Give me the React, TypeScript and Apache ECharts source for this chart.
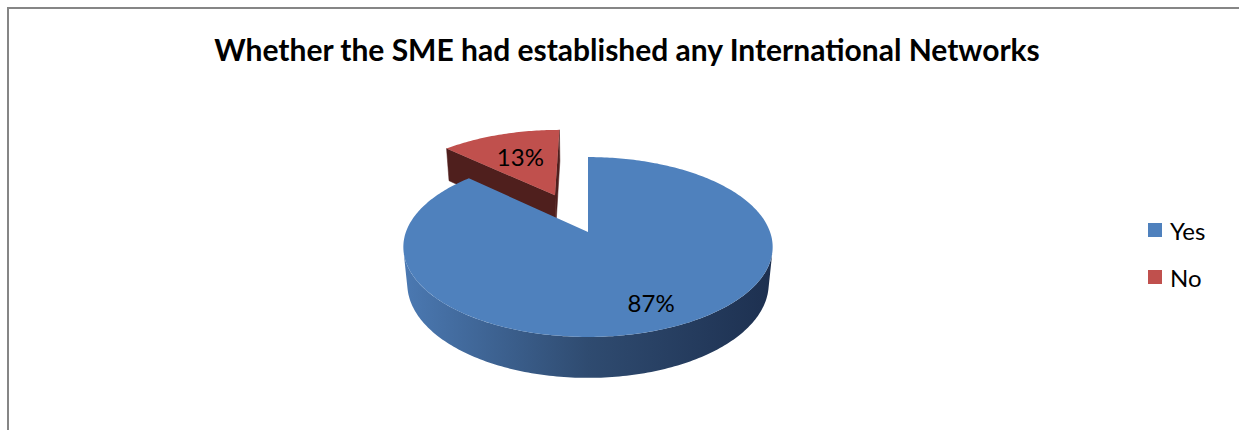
import React, { useEffect, useRef } from 'react';
import * as echarts from 'echarts';

// ---- data ----
const categories = ['Yes', 'No'];
const values = [87, 13];
const sliceColors = ['#4F81BD', '#C0504D'];
const titleText = 'Whether the SME had established any International Networks';

// ---- view / style (3D projection of the pie) ----
const CX = 588;
const CY = 232;
const FOCAL = 957.7;
const DIST = 5.26;
const TILT = (28.7 * Math.PI) / 180;
const THICK = 0.233;
const explode = [0, 0.491];
const labelPos = [0.77, 0.6];
const sideStops = [
  ['#4b79b2', '#2f4b70', '#1d3050'],
  ['#a04340', '#6e2b29', '#4a1d1c'],
];
const faceColors = ['#2c4a6e', '#4f1f1d'];

const COS = Math.cos(TILT);
const SIN = Math.sin(TILT);

function project(X: number, Y: number, Z: number): number[] {
  const yc = Y * COS + Z * SIN;
  const zc = -Y * SIN + Z * COS + DIST;
  return [CX + (FOCAL * X) / zc, CY - (FOCAL * yc) / zc];
}

const rad = (d: number) => (d * Math.PI) / 180;

function renderSlice(i: number) {
  return (_params: any, api: any) => {
    const total = values.reduce((a, b) => a + b, 0);
    let start = 0;
    for (let j = 0; j < i; j++) start += values[j];
    const v = api.value(0);
    const a0 = (start / total) * 360;
    const a1 = ((start + v) / total) * 360;
    const mid = rad((a0 + a1) / 2);
    const ox = explode[i] * Math.sin(mid);
    const oz = explode[i] * Math.cos(mid);
    const pt = (deg: number, Y: number, r = 1) =>
      project(ox + r * Math.sin(rad(deg)), Y, oz + r * Math.cos(rad(deg)));
    const arc = (from: number, to: number, Y: number) => {
      const pts: number[][] = [];
      const n = Math.max(2, Math.ceil(Math.abs(to - from)));
      for (let k = 0; k <= n; k++) pts.push(pt(from + ((to - from) * k) / n, Y));
      return pts;
    };
    const apexTop = project(ox, 0, oz);
    const apexBot = project(ox, -THICK, oz);
    const cam = [0, DIST * SIN, -DIST * COS];
    const children: any[] = [];

    // radial faces
    const faces = [
      { deg: a0, n: [-Math.cos(rad(a0)), Math.sin(rad(a0))] },
      { deg: a1, n: [Math.cos(rad(a1)), -Math.sin(rad(a1))] },
    ];
    faces.forEach((f) => {
      const dot = (cam[0] - ox) * f.n[0] + (cam[2] - oz) * f.n[1];
      if (dot > 1e-6) {
        children.push({
          type: 'polygon',
          z2: 1,
          shape: { points: [apexTop, pt(f.deg, 0), pt(f.deg, -THICK), apexBot] },
          style: { fill: faceColors[i], stroke: faceColors[i], lineWidth: 0.5 },
        });
      }
    });

    // outer curved side (visible part)
    const vis = (deg: number) =>
      -ox * Math.sin(rad(deg)) - (DIST * COS + oz) * Math.cos(rad(deg)) - 1 > 0;
    let vs = -1;
    let ve = -1;
    for (let d = a0; d <= a1; d += 0.25) {
      if (vis(d)) {
        if (vs < 0) vs = d;
        ve = d;
      }
    }
    if (vs >= 0 && ve > vs) {
      const top = arc(vs, ve, 0);
      const bot = arc(ve, vs, -THICK);
      const pts = top.concat(bot);
      let minX = Infinity;
      let maxX = -Infinity;
      pts.forEach((p) => {
        minX = Math.min(minX, p[0]);
        maxX = Math.max(maxX, p[0]);
      });
      const s = sideStops[i];
      children.push({
        type: 'polygon',
        z2: 2,
        shape: { points: pts },
        style: {
          fill: new echarts.graphic.LinearGradient(
            minX,
            0,
            maxX,
            0,
            [
              { offset: 0, color: s[0] },
              { offset: 0.5, color: s[1] },
              { offset: 1, color: s[2] },
            ],
            true
          ),
        },
      });
    }

    // top face
    children.push({
      type: 'polygon',
      z2: 3,
      shape: { points: [apexTop].concat(arc(a0, a1, 0)) },
      style: { fill: sliceColors[i] },
    });

    // label
    const r = explode[i] + labelPos[i];
    const lp = project(r * Math.sin(mid), 0, r * Math.cos(mid));
    children.push({
      type: 'text',
      z2: 4,
      style: {
        text: Math.round((v / total) * 100) + '%',
        x: lp[0],
        y: lp[1],
        align: 'center',
        verticalAlign: 'middle',
        fontSize: 24,
        fontFamily: 'Lato',
        fill: '#000000',
      },
    });

    return { type: 'group', children };
  };
}

export default function App() {
  const ref = useRef<HTMLDivElement>(null);
  useEffect(() => {
    if (!ref.current) return;
    const chart = echarts.init(ref.current, undefined, { renderer: 'svg' });
    chart.setOption({
      animation: false,
      backgroundColor: '#ffffff',
      color: sliceColors,
      title: {
        text: titleText,
        left: 627,
        top: 49,
        padding: 0,
        textAlign: 'center',
        textVerticalAlign: 'middle',
        textStyle: {
          fontFamily: 'Lato',
          fontWeight: 'bold',
          fontSize: 30,
          color: '#000000',
        },
      },
      legend: {
        data: categories,
        orient: 'vertical',
        left: 1148,
        top: 217,
        padding: 0,
        icon: 'rect',
        itemWidth: 14,
        itemHeight: 14,
        itemGap: 21,
        selectedMode: false,
        textStyle: {
          fontFamily: 'Lato',
          fontSize: 24,
          lineHeight: 26,
          color: '#000000',
          padding: [0, 0, 0, 3],
        },
      },
      graphic: [
        {
          type: 'rect',
          silent: true,
          shape: { x: 8, y: 8, width: 1400, height: 600 },
          style: { fill: 'none', stroke: '#868686', lineWidth: 2 },
        },
      ],
      series: categories.map((name, i) => ({
        type: 'custom',
        name,
        coordinateSystem: 'none',
        renderItem: renderSlice(i),
        data: [[values[i]]],
        itemStyle: { color: sliceColors[i] },
        z: i === 0 ? 3 : 2,
        silent: true,
      })),
    });
    return () => chart.dispose();
  }, []);
  return (
    <div
      ref={ref}
      style={{ position: 'absolute', left: 0, top: 0, width: 1239, height: 430 }}
    />
  );
}
